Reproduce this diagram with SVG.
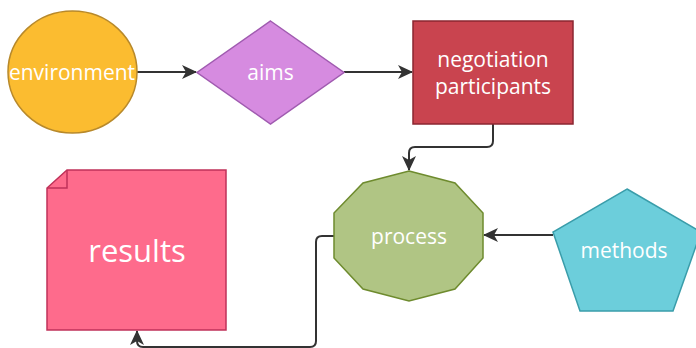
<svg xmlns="http://www.w3.org/2000/svg" width="696" height="348" viewBox="0 0 696 348">
<style>
text{font-family:"Open Sans","Noto Sans",sans-serif;fill:#fff;text-anchor:middle;font-size:21px}
.c{fill:none;stroke:#333;stroke-width:2}
</style>
<defs>
<marker id="ah" markerUnits="userSpaceOnUse" markerWidth="16" markerHeight="14" refX="14" refY="7" orient="auto">
<path d="M0,0 L15,7 L0,14 L4,7 z" fill="#333"/>
</marker>
</defs>
<rect width="696" height="348" fill="#fff"/>
<g id="connectors">
<path class="c" d="M137,72 L196,72" marker-end="url(#ah)"/>
<path class="c" d="M344,72 L412,72" marker-end="url(#ah)"/>
<path class="c" d="M493,124 L493,141 Q493,147 487,147 L415,147 Q409,147 409,153 L409,170" marker-end="url(#ah)"/>
<path class="c" d="M553,235 L484,235" marker-end="url(#ah)"/>
<path class="c" d="M334,236 L322,236 Q316,236 316,242 L316,341 Q316,347 310,347 L143,347 Q137,347 137,341 L137,331" marker-end="url(#ah)"/>
</g>
<g id="environment">
<ellipse cx="72.5" cy="72" rx="64.5" ry="61" fill="#FBBC30" stroke="#B8892A" stroke-width="1.5"/>
<text x="72" y="80">environment</text>
</g>
<g id="aims">
<polygon points="270.5,21 344,72.5 270.5,124 197,72.5" fill="#D68BE0" stroke="#A05BB0" stroke-width="1.5"/>
<text x="270.5" y="80">aims</text>
</g>
<g id="negotiation">
<rect x="413" y="21" width="160" height="103" fill="#C9444F" stroke="#8B2630" stroke-width="1.5"/>
<text x="493" y="67">negotiation</text>
<text x="493" y="94">participants</text>
</g>
<g id="process">
<polygon points="409,171 455,183 483,213 483,258 455,289 409,301 363,289 334,258 334,213 363,183" fill="#B0C584" stroke="#6E8B2E" stroke-width="1.5"/>
<text x="409" y="244">process</text>
</g>
<g id="methods">
<polygon points="627,189 701,232 673,311 580,311 553,232" fill="#6CCEDB" stroke="#3A9DAA" stroke-width="1.5"/>
<text x="624" y="258">methods</text>
</g>
<g id="results">
<path d="M67,170 L226,170 L226,330 L47,330 L47,188 Z" fill="#FE6B8C" stroke="#C0325A" stroke-width="1.5"/>
<path d="M47,188 L67,188 L67,170" fill="none" stroke="#C0325A" stroke-width="1.5"/>
<text x="137" y="262" style="font-size:31px">results</text>
</g>
</svg>
